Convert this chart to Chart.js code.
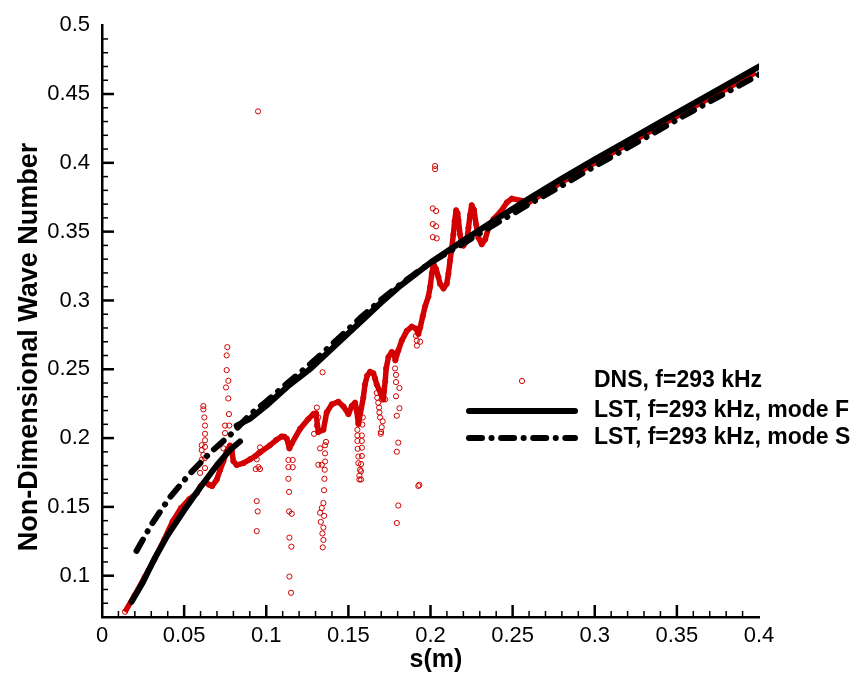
<!DOCTYPE html>
<html>
<head>
    <title>Non-Dimensional Wave Number</title>
    <script src="https://cdn.jsdelivr.net/npm/chart.js"></script>
    <style>
        html, body { margin: 0; padding: 0; background: #fff; }
    </style>
</head>
<body>
    <canvas id="myChart" width="861" height="677"></canvas>
    <script>
        // DNS, f=293 kHz : the continuous part of the signal (s in m)
        var dnsS = [0.0140, 0.0200, 0.0260, 0.0320, 0.0380, 0.0430, 0.0480, 0.0530, 0.0577, 0.0600,
                    0.0627, 0.0652, 0.0670, 0.0698, 0.0719, 0.0739, 0.0759, 0.0779, 0.0790, 0.0800,
                    0.0820, 0.0861, 0.0901, 0.0932, 0.0962, 0.1023, 0.1060, 0.1094, 0.1110, 0.1125,
                    0.1141, 0.1155, 0.1206, 0.1256, 0.1287, 0.1303, 0.1317, 0.1348, 0.1368, 0.1399,
                    0.1439, 0.1470, 0.1500, 0.1521, 0.1541, 0.1551, 0.1561, 0.1591, 0.1601, 0.1614,
                    0.1632, 0.1652, 0.1662, 0.1673, 0.1713, 0.1717, 0.1724, 0.1730, 0.1744, 0.1764,
                    0.1778, 0.1786, 0.1804, 0.1825, 0.1856, 0.1886, 0.1912, 0.1926, 0.1937, 0.1953,
                    0.1967, 0.1987, 0.1998, 0.2008, 0.2018, 0.2034, 0.2048, 0.2058, 0.2079, 0.2099,
                    0.2109, 0.2119, 0.2130, 0.2139, 0.2147, 0.2156, 0.2165, 0.2170, 0.2180, 0.2191,
                    0.2200, 0.2221, 0.2231, 0.2241, 0.2251, 0.2265, 0.2278, 0.2292, 0.2312, 0.2333,
                    0.2353, 0.2383, 0.2424, 0.2465, 0.2495, 0.2600, 0.2800, 0.3000, 0.3200, 0.3400,
                    0.3600, 0.3800, 0.3980];
        var dnsK = [0.0738, 0.0860, 0.0990, 0.1120, 0.1265, 0.1395, 0.1490, 0.1555, 0.1600, 0.1650,
                    0.1683, 0.1661, 0.1651, 0.1697, 0.1768, 0.1832, 0.1903, 0.1946, 0.1910, 0.1832,
                    0.1804, 0.1818, 0.1846, 0.1868, 0.1896, 0.1948, 0.1985, 0.2012, 0.2010, 0.1996,
                    0.1925, 0.1960, 0.2067, 0.2138, 0.2175, 0.2180, 0.2044, 0.2060, 0.2186, 0.2245,
                    0.2264, 0.2230, 0.2174, 0.2233, 0.2257, 0.2197, 0.2103, 0.2293, 0.2388, 0.2452,
                    0.2482, 0.2471, 0.2435, 0.2388, 0.2281, 0.2340, 0.2411, 0.2506, 0.2589, 0.2625,
                    0.2613, 0.2565, 0.2637, 0.2708, 0.2779, 0.2810, 0.2795, 0.2756, 0.2803, 0.2886,
                    0.2957, 0.3028, 0.3099, 0.3194, 0.3265, 0.3228, 0.3171, 0.3121, 0.3087, 0.3121,
                    0.3194, 0.3290, 0.3384, 0.3478, 0.3576, 0.3655, 0.3633, 0.3584, 0.3478, 0.3420,
                    0.3398, 0.3432, 0.3527, 0.3621, 0.3692, 0.3657, 0.3550, 0.3455, 0.3408, 0.3444,
                    0.3527, 0.3591, 0.3641, 0.3712, 0.3740, 0.3715, 0.3860, 0.4000, 0.4135, 0.4270,
                    0.4405, 0.4535, 0.4655];

        // DNS, f=293 kHz : scattered points
        var dnsSpotS = [0.0617, 0.0617, 0.0623, 0.0627, 0.0627, 0.0627, 0.0607, 0.0627, 0.0607, 0.0617, 0.0627, 0.0607, 0.0627, 0.0597,
                        0.0763, 0.0759, 0.0759, 0.0769, 0.0755, 0.0769, 0.0773, 0.0749, 0.0775, 0.0749, 0.0739,
                        0.0962, 0.0952, 0.0942, 0.0936, 0.0962, 0.0952, 0.0942, 0.0948, 0.0942, 0.0950,
                        0.1135, 0.1161, 0.1135, 0.1161, 0.1135, 0.1139, 0.1139, 0.1155, 0.1141, 0.1153, 0.1141, 0.1151,
                        0.1308, 0.1317, 0.1308, 0.1317, 0.1291, 0.1328, 0.1317, 0.1338, 0.1364, 0.1358, 0.1358, 0.1358,
                        0.1356, 0.1354, 0.1352, 0.1348, 0.1338, 0.1328, 0.1352, 0.1332, 0.1348, 0.1342, 0.1348, 0.1344, 0.1343,
                        0.1588, 0.1585, 0.1555, 0.1555, 0.1582, 0.1555, 0.1582, 0.1557, 0.1582, 0.1561, 0.1582, 0.1561,
                        0.1577, 0.1571, 0.1577, 0.1567, 0.1567, 0.1577,
                        0.1673, 0.1676, 0.1682, 0.1687, 0.1689, 0.1693, 0.1709, 0.1703, 0.1699, 0.1697, 0.1703, 0.1724,
                        0.1784, 0.1790, 0.1790, 0.1811, 0.1790, 0.1811, 0.1795, 0.1804, 0.1795, 0.1804, 0.1795,
                        0.1912, 0.1917, 0.1917, 0.1937, 0.1926, 0.1932,
                        0.2028, 0.2028, 0.2014, 0.2034, 0.2014, 0.2034, 0.2014, 0.2038];
        var dnsSpotK = [0.2233, 0.2209, 0.2150, 0.2091, 0.2031, 0.1984, 0.1948, 0.1936, 0.1913, 0.1877, 0.1855, 0.1841, 0.1782, 0.1747,
                        0.2661, 0.2601, 0.2494, 0.2416, 0.2368, 0.2288, 0.2174, 0.2091, 0.2091, 0.2036, 0.1925,
                        0.1932, 0.1889, 0.1846, 0.1775, 0.1775, 0.1789, 0.1542, 0.1467, 0.1324, 0.4374,
                        0.1841, 0.1841, 0.1789, 0.1789, 0.1704, 0.1609, 0.1467, 0.1450, 0.1277, 0.1211, 0.0994, 0.0876,
                        0.2222, 0.2150, 0.2091, 0.2044, 0.2031, 0.1925, 0.1806, 0.1806, 0.1972, 0.1948, 0.1889, 0.1830,
                        0.1770, 0.1704, 0.1621, 0.1528, 0.1492, 0.1457, 0.1435, 0.1391, 0.1350, 0.1307, 0.1260, 0.1206, 0.2478,
                        0.2150, 0.2098, 0.2060, 0.2019, 0.2019, 0.1979, 0.1979, 0.1922, 0.1930, 0.1866, 0.1870, 0.1818,
                        0.1811, 0.1770, 0.1759, 0.1727, 0.1699, 0.1699,
                        0.2328, 0.2293, 0.2257, 0.2222, 0.2186, 0.2150, 0.2122, 0.2079, 0.2044, 0.2031, 0.2281, 0.2281,
                        0.2506, 0.2459, 0.2407, 0.2364, 0.2304, 0.2217, 0.2162, 0.1967, 0.1901, 0.1510, 0.1383,
                        0.2743, 0.2708, 0.2672, 0.2700, 0.1652, 0.1660,
                        0.3977, 0.3954, 0.3669, 0.3650, 0.3555, 0.3539, 0.3460, 0.3451];

        // LST mode F (null splits the low branch from the upper one)
        var modeFS = [0.018, 0.025, 0.032, 0.040, 0.050, 0.060, 0.070, 0.078, 0.084, 0.083,
                      0.082, 0.090, 0.100, 0.113, 0.127, 0.140, 0.157, 0.170, 0.182, 0.200,
                      0.220, 0.240, 0.260, 0.280, 0.300, 0.320, 0.340, 0.360, 0.380, 0.400];
        var modeFK = [0.0810, 0.0955, 0.1125, 0.1295, 0.1475, 0.1645, 0.1805, 0.1915, 0.1975, null,
                      0.2090, 0.2140, 0.2235, 0.2375, 0.2505, 0.2650, 0.2840, 0.2985, 0.3110, 0.3275,
                      0.3435, 0.3590, 0.3740, 0.3885, 0.4025, 0.4160, 0.4295, 0.4430, 0.4565, 0.4700];

        // LST mode S
        var modeSS = [0.021, 0.030, 0.041, 0.053, 0.066, 0.080, 0.090, 0.100, 0.113, 0.127,
                      0.140, 0.157, 0.170, 0.182, 0.200, 0.220, 0.240, 0.260, 0.280, 0.300,
                      0.320, 0.340, 0.360, 0.380, 0.400];
        var modeSK = [0.1180, 0.1370, 0.1565, 0.1735, 0.1895, 0.2044, 0.2170, 0.2265, 0.2400, 0.2540,
                      0.2680, 0.2870, 0.3005, 0.3120, 0.3275, 0.3415, 0.3560, 0.3700, 0.3835, 0.3975,
                      0.4110, 0.4245, 0.4380, 0.4510, 0.4640];

        var xTicks = [0, 0.05, 0.1, 0.15, 0.2, 0.25, 0.3, 0.35, 0.4];
        var yTicks = [0.1, 0.15, 0.2, 0.25, 0.3, 0.35, 0.4, 0.45, 0.5];

        var legendText = ['DNS, f=293 kHz', 'LST, f=293 kHz, mode F', 'LST, f=293 kHz, mode S'];

        var FONT = '"Liberation Sans", Arial, sans-serif';
        var RED = '#d20000';
        var DASHDOT = [13, 9.5, 0.1, 9.5];

        function pts(xs, ys) {
            return xs.map(function (x, i) { return { x: x, y: ys[i] }; });
        }
        function fmt(v) {
            return String(parseFloat(Number(v).toFixed(2)));
        }

        // inward ticks, axis titles and the legend box
        var decor = {
            id: 'decor',
            afterDraw: function (chart) {
                var c = chart.ctx;
                var xs = chart.scales.x, ys = chart.scales.y;
                var a = chart.chartArea;
                var i, p, len, w;
                c.save();
                c.setLineDash([]);
                c.fillStyle = '#000';

                // ticks every 0.01, longer ones every 0.05
                for (i = 1; i < 40; i++) {
                    len = (i % 5 === 0) ? 12 : 6;
                    w = (i % 5 === 0) ? 2.5 : 1.5;
                    p = xs.getPixelForValue(i / 100);
                    c.fillRect(p - w / 2, a.bottom - len, w, len);
                }
                for (i = 8; i < 50; i++) {
                    len = (i % 5 === 0) ? 12 : 6;
                    w = (i % 5 === 0) ? 2.5 : 1.5;
                    p = ys.getPixelForValue(i / 100);
                    c.fillRect(a.left, p - w / 2, len, w);
                }

                c.textAlign = 'center';
                c.textBaseline = 'middle';
                c.font = 'bold 25px ' + FONT;
                c.fillText('s(m)', 436, 660);

                c.save();
                c.translate(30, 347);
                c.rotate(-Math.PI / 2);
                c.font = 'bold 27px ' + FONT;
                c.fillText('Non-Dimensional Wave Number', 0, 0);
                c.restore();

                // legend
                c.beginPath();
                c.arc(522, 381, 2.6, 0, Math.PI * 2);
                c.lineWidth = 1;
                c.strokeStyle = RED;
                c.stroke();

                c.strokeStyle = '#000';
                c.lineWidth = 6;
                c.lineCap = 'round';
                c.beginPath();
                c.moveTo(469, 411);
                c.lineTo(575, 411);
                c.stroke();
                c.setLineDash(DASHDOT);
                c.beginPath();
                c.moveTo(469, 438);
                c.lineTo(575, 438);
                c.stroke();
                c.setLineDash([]);

                c.textAlign = 'left';
                c.font = 'bold 23px ' + FONT;
                c.fillText(legendText[0], 594, 381);
                c.fillText(legendText[1], 594, 411);
                c.fillText(legendText[2], 594, 438);
                c.restore();
            }
        };

        var ctx = document.getElementById('myChart').getContext('2d');
        var myChart = new Chart(ctx, {
            type: 'scatter',
            data: {
                datasets: [{
                    label: legendText[2],
                    data: pts(modeSS, modeSK),
                    showLine: true,
                    borderColor: '#000',
                    borderWidth: 6,
                    borderDash: DASHDOT,
                    borderCapStyle: 'round',
                    borderJoinStyle: 'round',
                    pointRadius: 0,
                    order: 1
                }, {
                    label: legendText[1],
                    data: pts(modeFS, modeFK),
                    showLine: true,
                    spanGaps: false,
                    borderColor: '#000',
                    borderWidth: 6,
                    borderCapStyle: 'round',
                    borderJoinStyle: 'round',
                    pointRadius: 0,
                    order: 2
                }, {
                    label: legendText[0],
                    data: pts(dnsS, dnsK),
                    showLine: true,
                    borderColor: RED,
                    borderWidth: 5.5,
                    borderJoinStyle: 'round',
                    pointRadius: 2.6,
                    pointBorderWidth: 1,
                    pointBorderColor: RED,
                    pointBackgroundColor: 'rgba(255,255,255,0)',
                    order: 3
                }, {
                    label: legendText[0],
                    data: pts(dnsSpotS, dnsSpotK),
                    showLine: false,
                    pointRadius: 2.6,
                    pointBorderWidth: 1,
                    pointBorderColor: RED,
                    pointBackgroundColor: 'rgba(255,255,255,0)',
                    order: 4
                }]
            },
            options: {
                responsive: false,
                animation: false,
                devicePixelRatio: 1,
                layout: { padding: { left: 0, right: 102, top: 14, bottom: 0 } },
                plugins: {
                    legend: { display: false },
                    tooltip: { enabled: false }
                },
                scales: {
                    x: {
                        type: 'linear',
                        min: 0,
                        max: 0.4,
                        afterFit: function (s) { s.height = 60; },
                        afterBuildTicks: function (s) {
                            s.ticks = xTicks.map(function (v) { return { value: v }; });
                        },
                        grid: { display: false, drawTicks: false },
                        border: { display: true, color: '#000', width: 2.5 },
                        ticks: {
                            color: '#000',
                            padding: 6,
                            maxRotation: 0,
                            autoSkip: false,
                            font: { family: FONT, size: 22 },
                            callback: function (v) { return fmt(v); }
                        }
                    },
                    y: {
                        type: 'linear',
                        min: 0.07,
                        max: 0.5,
                        afterFit: function (s) { s.width = 102; },
                        afterBuildTicks: function (s) {
                            s.ticks = yTicks.map(function (v) { return { value: v }; });
                        },
                        grid: { display: false, drawTicks: false },
                        border: { display: true, color: '#000', width: 2.5 },
                        ticks: {
                            color: '#000',
                            padding: 12,
                            autoSkip: false,
                            font: { family: FONT, size: 22 },
                            callback: function (v) { return fmt(v); }
                        }
                    }
                }
            },
            plugins: [decor]
        });
    </script>
</body>
</html>
